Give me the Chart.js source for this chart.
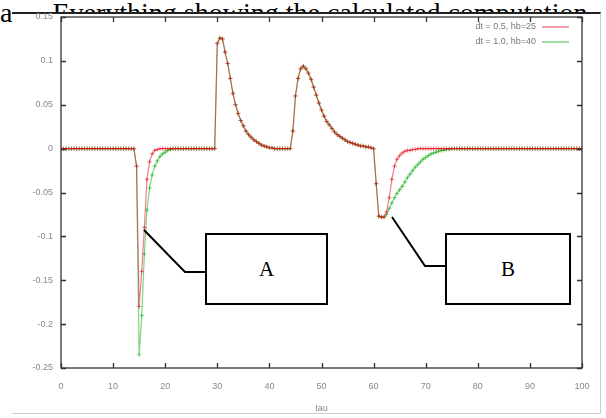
<!DOCTYPE html>
<html>
<head>
<meta charset="utf-8">
<script src="https://cdn.jsdelivr.net/npm/chart.js@4.4.1/dist/chart.umd.min.js"></script>
<style>
html, body { margin: 0; padding: 0; background: #fff; }
#wrap { position: relative; width: 606px; height: 418px; overflow: hidden; }
#caption { position: absolute; left: 0; top: -1px; line-height: 28px; font-family: "Liberation Serif", serif; font-size: 28px; white-space: nowrap; color: #000; z-index: 0; }
#caption span { margin-left: 40px; }
#sheet { position: absolute; left: 12px; top: 12px; width: 589px; height: 402px; box-sizing: border-box; background: #fff;
         border-top: 2px solid #222; border-right: 1px solid #ccc; border-bottom: 1px solid #ccc; z-index: 1; }
#plot { position: absolute; left: 0; top: 0; z-index: 2; }
#callouts { position: absolute; left: 0; top: 0; z-index: 3; }
.box { position: absolute; z-index: 4; border: 2px solid #000; background: #fff; box-sizing: border-box;
       font-family: "Liberation Serif", serif; font-size: 21px; display: flex; align-items: center; justify-content: center; }
</style>
</head>
<body>
<div id="wrap">
  <div id="caption">a<span>Everything showing the calculated computation</span></div>
  <div id="sheet"></div>
  <canvas id="plot" width="606" height="418"></canvas>
  <svg id="callouts" width="606" height="418">
    <polyline points="144,230 185,272 205,272" fill="none" stroke="#000" stroke-width="2"/>
    <polyline points="392,217 425,266 445,266" fill="none" stroke="#000" stroke-width="2"/>
  </svg>
  <div class="box" style="left:205px;top:233px;width:123px;height:72px;">A</div>
  <div class="box" style="left:445px;top:233px;width:126px;height:72px;">B</div>
</div>
<script>
// time axis, sampled every 0.5
const tau = Array.from({ length: 201 }, (_, i) => i * 0.5);

// dt = 0.5 run (red)
const dtHalf = [
    0, 0, 0, 0, 0, 0, 0, 0, 0, 0, 0, 0, 0, 0, 0, 0, 0, 0, 0, 0,
    0, 0, 0, 0, 0, 0, 0, 0, 0, -0.02, -0.18, -0.14, -0.09, -0.035, -0.015, -0.006, -0.002, -0.001, 0, 0,
    0, 0, 0, 0, 0, 0, 0, 0, 0, 0, 0, 0, 0, 0, 0, 0, 0, 0, 0, 0,
    0.12, 0.126, 0.125, 0.11, 0.097, 0.08, 0.063, 0.05, 0.04, 0.032, 0.026, 0.02, 0.016, 0.013, 0.01, 0.008, 0.006, 0.004, 0.003, 0.002,
    0.001, 0.001, 0, 0, 0, 0, 0, 0, 0, 0.02, 0.06, 0.08, 0.091, 0.094, 0.091, 0.086, 0.079, 0.07, 0.061, 0.052,
    0.044, 0.037, 0.031, 0.027, 0.023, 0.019, 0.016, 0.014, 0.012, 0.01, 0.008, 0.007, 0.006, 0.005, 0.004, 0.003, 0.003, 0.002, 0.002, 0.001,
    0, -0.04, -0.077, -0.078, -0.078, -0.072, -0.056, -0.035, -0.02, -0.012, -0.008, -0.005, -0.003, -0.002, -0.002, -0.001, -0.001, 0, 0, 0,
    0, 0, 0, 0, 0, 0, 0, 0, 0, 0, 0, 0, 0, 0, 0, 0, 0, 0, 0, 0,
    0, 0, 0, 0, 0, 0, 0, 0, 0, 0, 0, 0, 0, 0, 0, 0, 0, 0, 0, 0,
    0, 0, 0, 0, 0, 0, 0, 0, 0, 0, 0, 0, 0, 0, 0, 0, 0, 0, 0, 0,
    0
];

// dt = 1.0 run (green)
const dtOne = [
    0, 0, 0, 0, 0, 0, 0, 0, 0, 0, 0, 0, 0, 0, 0, 0, 0, 0, 0, 0,
    0, 0, 0, 0, 0, 0, 0, 0, 0, -0.02, -0.235, -0.19, -0.12, -0.07, -0.045, -0.03, -0.02, -0.014, -0.009, -0.006,
    -0.004, -0.002, -0.001, 0, 0, 0, 0, 0, 0, 0, 0, 0, 0, 0, 0, 0, 0, 0, 0, 0,
    0.12, 0.126, 0.125, 0.11, 0.097, 0.08, 0.063, 0.05, 0.04, 0.032, 0.026, 0.02, 0.016, 0.013, 0.01, 0.008, 0.006, 0.004, 0.003, 0.002,
    0.001, 0.001, 0, 0, 0, 0, 0, 0, 0, 0.02, 0.06, 0.08, 0.091, 0.094, 0.091, 0.086, 0.079, 0.07, 0.061, 0.052,
    0.044, 0.037, 0.031, 0.027, 0.023, 0.019, 0.016, 0.014, 0.012, 0.01, 0.008, 0.007, 0.006, 0.005, 0.004, 0.003, 0.003, 0.002, 0.002, 0.001,
    0, -0.04, -0.077, -0.078, -0.078, -0.075, -0.068, -0.062, -0.056, -0.051, -0.047, -0.043, -0.038, -0.033, -0.029, -0.025, -0.021, -0.018, -0.015, -0.012,
    -0.01, -0.008, -0.006, -0.005, -0.004, -0.003, -0.002, -0.002, -0.001, -0.001, 0, 0, 0, 0, 0, 0, 0, 0, 0, 0,
    0, 0, 0, 0, 0, 0, 0, 0, 0, 0, 0, 0, 0, 0, 0, 0, 0, 0, 0, 0,
    0, 0, 0, 0, 0, 0, 0, 0, 0, 0, 0, 0, 0, 0, 0, 0, 0, 0, 0, 0,
    0
];

const seriesNames = ['dt = 0.5, hb=25', 'dt = 1.0, hb=40'];
const seriesColors = ['rgba(225, 0, 20, 0.5)', 'rgba(0, 170, 0, 0.5)'];

const xTicks = [0, 10, 20, 30, 40, 50, 60, 70, 80, 90, 100];
const yTicks = [-0.25, -0.2, -0.15, -0.1, -0.05, 0, 0.05, 0.1, 0.15];
const yTickLabels = ['-0.25', '-0.2', '-0.15', '-0.1', '-0.05', '0', '0.05', '0.1', '0.15'];

const tickFont = { family: 'Liberation Sans', size: 9 };

// gnuplot-like frame with inward ticks on all four sides, plus the key
const gnuFrame = {
    id: 'gnuFrame',
    afterDraw(chart) {
        const c = chart.ctx;
        const a = chart.chartArea;
        const xs = chart.scales.x;
        const ys = chart.scales.y;
        c.save();
        c.strokeStyle = '#333';
        c.lineWidth = 1.3;
        c.strokeRect(a.left, a.top, a.right - a.left, a.bottom - a.top);
        c.beginPath();
        xTicks.forEach(v => {
            const px = Math.round(xs.getPixelForValue(v)) + 0.5;
            c.moveTo(px, a.bottom); c.lineTo(px, a.bottom - 5);
            c.moveTo(px, a.top); c.lineTo(px, a.top + 5);
        });
        yTicks.forEach(v => {
            const py = Math.round(ys.getPixelForValue(v)) + 0.5;
            c.moveTo(a.left, py); c.lineTo(a.left + 5, py);
            c.moveTo(a.right, py); c.lineTo(a.right - 5, py);
        });
        c.stroke();

        // key
        c.font = '9px "Liberation Sans"';
        c.fillStyle = '#777';
        c.textAlign = 'right';
        c.textBaseline = 'middle';
        seriesNames.forEach((name, i) => {
            const y = 27 + i * 15;
            c.fillText(name, 536, y);
            c.strokeStyle = seriesColors[i];
            c.lineWidth = 1.5;
            c.beginPath();
            c.moveTo(542, y); c.lineTo(569, y);
            c.stroke();
        });
        c.restore();
    }
};

const ctx = document.getElementById('plot').getContext('2d');

new Chart(ctx, {
    type: 'line',
    data: {
        datasets: [dtHalf, dtOne].map((vals, i) => ({
            label: seriesNames[i],
            data: tau.map((t, k) => ({ x: t, y: vals[k] })),
            borderColor: seriesColors[i],
            borderWidth: 1.2,
            pointStyle: 'cross',
            pointRadius: 2.2,
            pointBorderColor: seriesColors[i],
            pointBorderWidth: 1,
            tension: 0,
            fill: false
        }))
    },
    options: {
        responsive: false,
        animation: false,
        layout: { padding: { top: 17, right: 24, left: 0, bottom: 0 } },
        plugins: {
            legend: { display: false },
            tooltip: { enabled: false }
        },
        scales: {
            x: {
                type: 'linear',
                min: 0,
                max: 100,
                afterBuildTicks: s => { s.ticks = xTicks.map(v => ({ value: v })); },
                afterFit: s => { s.height = 50; },
                grid: { display: false, drawTicks: false },
                border: { display: false },
                ticks: { autoSkip: false, maxRotation: 0, padding: 13, color: '#888', font: tickFont },
                title: { display: true, text: 'tau', color: '#888', font: tickFont, padding: { top: 0, bottom: 4 } }
            },
            y: {
                type: 'linear',
                min: -0.25,
                max: 0.15,
                afterBuildTicks: s => { s.ticks = yTicks.map(v => ({ value: v })); },
                afterFit: s => { s.width = 61; },
                grid: { display: false, drawTicks: false },
                border: { display: false },
                ticks: {
                    padding: 8,
                    color: '#888',
                    font: tickFont,
                    callback: (value, index) => yTickLabels[index]
                }
            }
        }
    },
    plugins: [gnuFrame]
});
</script>
</body>
</html>
